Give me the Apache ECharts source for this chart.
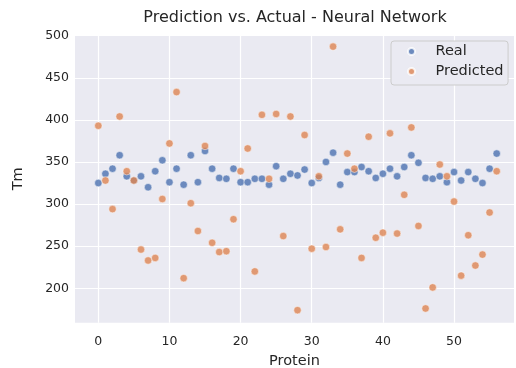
<!DOCTYPE html>
<html>
<head>
<meta charset="utf-8">
<script src="https://cdn.jsdelivr.net/npm/echarts@6/dist/echarts.min.js"></script>
<style>
  html, body { margin: 0; padding: 0; background: #fff; }
  #chart { width: 516px; height: 368px; }
</style>
</head>
<body>
<div id="chart"></div>
<script>
// protein index on x, melting temperature Tm on y
const protein = [0, 1, 2, 3, 4, 5, 6, 7, 8, 9, 10, 11, 12, 13, 14, 15, 16, 17, 18, 19,
  20, 21, 22, 23, 24, 25, 26, 27, 28, 29, 30, 31, 32, 33, 34, 35, 36, 37, 38, 39,
  40, 41, 42, 43, 44, 45, 46, 47, 48, 49, 50, 51, 52, 53, 54, 55, 56];

const realTm = [325, 336, 342, 358, 333, 328, 333, 320, 339, 352,
  326, 342, 323, 358, 326, 363, 342, 331, 330, 342,
  326, 326, 330, 330, 323, 345, 330, 336, 334, 341,
  325, 331, 350, 361, 323, 338, 338, 344, 339, 331,
  336, 342, 333, 344, 358, 349, 331, 330, 333, 326,
  338, 328, 338, 330, 325, 342, 360];

const predictedTm = [393, 328, 294, 404, 339, 328, 246, 233, 236, 306,
  372, 433, 212, 301, 268, 369, 254, 243, 244, 282,
  339, 366, 220, 406, 330, 407, 262, 404, 174, 382,
  247, 333, 249, 487, 270, 360, 342, 236, 380, 260,
  266, 384, 265, 311, 391, 274, 176, 201, 347, 333,
  303, 215, 263, 227, 240, 290, 339];

const xTicks = [0, 10, 20, 30, 40, 50];
const yTicks = [200, 250, 300, 350, 400, 450, 500];

const textColor = '#262626';
const font = 'DejaVu Sans';

const chart = echarts.init(document.getElementById('chart'), null, { renderer: 'canvas' });

const option = {
  backgroundColor: '#ffffff',
  animation: false,
  textStyle: { fontFamily: font },
  grid: {
    left: 75,
    right: 2,
    top: 35,
    bottom: 45.3,
    containLabel: false,
    outerBoundsMode: 'none',
    show: true,
    backgroundColor: '#EAEAF2',
    borderWidth: 0
  },
  graphic: [
    {
      type: 'text',
      x: 295,
      y: 18,
      style: {
        text: 'Prediction vs. Actual - Neural Network',
        fontFamily: font,
        fontSize: 16,
        fill: textColor,
        align: 'center',
        verticalAlign: 'middle'
      }
    }
  ],
  legend: {
    orient: 'vertical',
    left: 391,
    top: 41,
    icon: 'circle',
    itemWidth: 38,
    itemHeight: 7,
    itemGap: 5,
    padding: [3, 4.5, 6, 16],
    backgroundColor: '#EAEAF2',
    borderColor: '#cccccc',
    borderWidth: 1,
    borderRadius: 3,
    textStyle: {
      fontFamily: font,
      fontSize: 14.5,
      color: textColor
    },
    data: ['Real', 'Predicted']
  },
  xAxis: {
    type: 'value',
    min: -3.275,
    max: 58.43,
    name: 'Protein',
    nameLocation: 'middle',
    nameGap: 26,
    nameTextStyle: { fontFamily: font, fontSize: 14.5, color: textColor },
    axisLine: { show: false },
    axisTick: { show: false, customValues: xTicks },
    axisLabel: {
      customValues: xTicks,
      margin: 13,
      fontFamily: font,
      fontSize: 12.5,
      color: textColor
    },
    splitLine: { show: true, lineStyle: { color: '#ffffff', width: 1.2 } }
  },
  yAxis: {
    type: 'value',
    min: 159.1,
    max: 500.8,
    name: 'Tm',
    nameLocation: 'middle',
    nameGap: 49,
    nameTextStyle: { fontFamily: font, fontSize: 14.5, color: textColor },
    axisLine: { show: false },
    axisTick: { show: false, customValues: yTicks },
    axisLabel: {
      customValues: yTicks,
      margin: 6,
      fontFamily: font,
      fontSize: 12.5,
      color: textColor
    },
    splitLine: { show: true, lineStyle: { color: '#ffffff', width: 1.2 } }
  },
  series: [
    {
      name: 'Real',
      type: 'scatter',
      symbol: 'circle',
      symbolSize: 7.5,
      itemStyle: { color: '#4C72B0', borderColor: '#ffffff', borderWidth: 0.6 },
      data: protein.map((p, i) => [p, realTm[i]])
    },
    {
      name: 'Predicted',
      type: 'scatter',
      symbol: 'circle',
      symbolSize: 7.5,
      itemStyle: { color: '#DD8452', borderColor: '#ffffff', borderWidth: 0.6 },
      data: protein.map((p, i) => [p, predictedTm[i]])
    }
  ]
};

chart.setOption(option);
</script>
</body>
</html>
